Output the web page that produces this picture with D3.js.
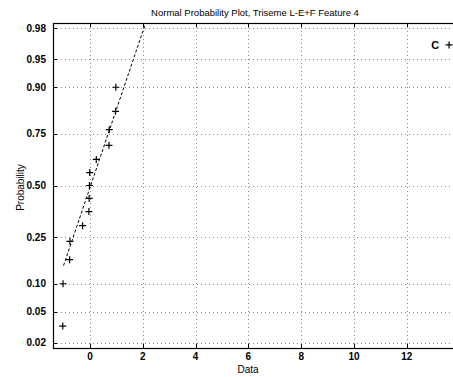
<!DOCTYPE html>
<html>
<head>
<meta charset="utf-8">
<script src="https://cdn.jsdelivr.net/npm/d3@7"></script>
<style>
  body { margin: 0; background: #fff; }
  text { font-family: Arial, "Liberation Sans", sans-serif; fill: #000; }
</style>
</head>
<body>
<svg id="chart" width="453" height="377"></svg>
<script>
// sample values and their plotting probabilities
var dataX = [-1.03, -1.02, -0.77, -0.76, -0.28, -0.04, -0.03, -0.02, -0.01, 0.24, 0.72, 0.73, 0.97, 0.98, 13.6];
var dataP = [0.0333, 0.1, 0.1667, 0.2333, 0.3, 0.3667, 0.4333, 0.5, 0.5667, 0.6333, 0.7, 0.7667, 0.8333, 0.9, 0.9667];

// reference line (dashed) end points
var lineX = [-1.0, 2.08];
var lineP = [0.148, 0.9817];

var xTicks = [0, 2, 4, 6, 8, 10, 12];
var yTicks = [0.02, 0.05, 0.10, 0.25, 0.50, 0.75, 0.90, 0.95, 0.98];
var yTickLabels = ["0.02", "0.05", "0.10", "0.25", "0.50", "0.75", "0.90", "0.95", "0.98"];

var svg = d3.select("#chart");
var plotLeft = 53, plotRight = 457, plotTop = 23, plotBottom = 348;

// inverse normal cdf (Acklam)
function probit(p) {
    var a = [-39.69683028665376, 220.9460984245205, -275.9285104469687, 138.3577518672690, -30.66479806614716, 2.506628277459239];
    var b = [-54.47609879822406, 161.5858368580409, -155.6989798598866, 66.80131188771972, -13.28068155288572];
    var c = [-0.007784894002430293, -0.3223964580411365, -2.400758277161838, -2.549732539343734, 4.374664141464968, 2.938163982698783];
    var d = [0.007784695709041462, 0.3224671290700398, 2.445134137142996, 3.754408661907416];
    var q, r;
    if (p < 0.02425) {
        q = Math.sqrt(-2 * Math.log(p));
        return (((((c[0]*q+c[1])*q+c[2])*q+c[3])*q+c[4])*q+c[5]) / ((((d[0]*q+d[1])*q+d[2])*q+d[3])*q+1);
    } else if (p > 1 - 0.02425) {
        q = Math.sqrt(-2 * Math.log(1 - p));
        return -(((((c[0]*q+c[1])*q+c[2])*q+c[3])*q+c[4])*q+c[5]) / ((((d[0]*q+d[1])*q+d[2])*q+d[3])*q+1);
    }
    q = p - 0.5; r = q * q;
    return (((((a[0]*r+a[1])*r+a[2])*r+a[3])*r+a[4])*r+a[5])*q / (((((b[0]*r+b[1])*r+b[2])*r+b[3])*r+b[4])*r+1);
}

var x = d3.scaleLinear().domain([-1.4, 13.9]).range([plotLeft, plotRight]);
var z = d3.scaleLinear().domain([-2.12, 2.12]).range([plotBottom, plotTop]);
function y(p) { return z(probit(p)); }

// grid
var grid = svg.append("g").attr("class", "grid")
    .attr("stroke", "#8a8a8a").attr("stroke-width", 1).attr("stroke-dasharray", "1,3");
grid.selectAll("line.gx").data(xTicks).enter().append("line")
    .attr("x1", function(d) { return Math.round(x(d)) + 0.5; })
    .attr("x2", function(d) { return Math.round(x(d)) + 0.5; })
    .attr("y1", plotTop).attr("y2", plotBottom);
grid.selectAll("line.gy").data(yTicks).enter().append("line")
    .attr("y1", function(d) { return Math.round(y(d)) + 0.5; })
    .attr("y2", function(d) { return Math.round(y(d)) + 0.5; })
    .attr("x1", plotLeft).attr("x2", plotRight);

// box
svg.append("rect")
    .attr("x", plotLeft + 0.5).attr("y", plotTop + 0.5)
    .attr("width", plotRight - plotLeft).attr("height", plotBottom - plotTop)
    .attr("fill", "none").attr("stroke", "#000").attr("stroke-width", 1.2);

// ticks (inward)
var ticks = svg.append("g").attr("stroke", "#000").attr("stroke-width", 1);
xTicks.forEach(function(t) {
    var px = Math.round(x(t)) + 0.5;
    ticks.append("line").attr("x1", px).attr("x2", px).attr("y1", plotBottom).attr("y2", plotBottom - 4);
    ticks.append("line").attr("x1", px).attr("x2", px).attr("y1", plotTop).attr("y2", plotTop + 4);
});
yTicks.forEach(function(t) {
    var py = Math.round(y(t)) + 0.5;
    ticks.append("line").attr("x1", plotLeft).attr("x2", plotLeft + 4).attr("y1", py).attr("y2", py);
});

// tick labels
svg.append("g").selectAll("text").data(xTicks).enter().append("text")
    .attr("x", function(d) { return x(d); })
    .attr("y", plotBottom + 12)
    .attr("text-anchor", "middle")
    .attr("font-size", 10).attr("font-weight", "bold")
    .text(function(d) { return d; });

svg.append("g").selectAll("text").data(yTicks).enter().append("text")
    .attr("x", plotLeft - 7)
    .attr("y", function(d) { return y(d) + 3.5; })
    .attr("text-anchor", "end")
    .attr("font-size", 10).attr("font-weight", "bold")
    .text(function(d, i) { return yTickLabels[i]; });

// reference line
var line = d3.line()
    .x(function(d) { return x(d[0]); })
    .y(function(d) { return y(d[1]); });
svg.append("path")
    .datum(d3.zip(lineX, lineP))
    .attr("d", line)
    .attr("fill", "none").attr("stroke", "#000").attr("stroke-width", 1)
    .attr("stroke-dasharray", "3,2");

// + markers
svg.append("g").selectAll("path.pt").data(d3.zip(dataX, dataP)).enter().append("path")
    .attr("d", function(d) {
        var px = x(d[0]), py = y(d[1]);
        return "M" + (px - 3.5) + "," + py + "H" + (px + 3.5) + "M" + px + "," + (py - 3.5) + "V" + (py + 3.5);
    })
    .attr("stroke", "#000").attr("stroke-width", 1.2).attr("fill", "none");

// label next to the outlier
svg.append("text")
    .attr("x", x(dataX[dataX.length - 1]) - 10)
    .attr("y", y(dataP[dataP.length - 1]) + 4)
    .attr("text-anchor", "end")
    .attr("font-size", 11).attr("font-weight", "bold")
    .text("C");

// title and axis labels
svg.append("text")
    .attr("x", (plotLeft + plotRight) / 2).attr("y", 16)
    .attr("text-anchor", "middle").attr("font-size", 9.5)
    .text("Normal Probability Plot, Triseme L-E+F Feature 4");

svg.append("text")
    .attr("x", (plotLeft + plotRight) / 2 - 7).attr("y", 373)
    .attr("text-anchor", "middle").attr("font-size", 10)
    .text("Data");

svg.append("text")
    .attr("transform", "translate(24," + ((plotTop + plotBottom) / 2 + 2) + ") rotate(-90)")
    .attr("text-anchor", "middle").attr("font-size", 10)
    .text("Probability");
</script>
</body>
</html>
